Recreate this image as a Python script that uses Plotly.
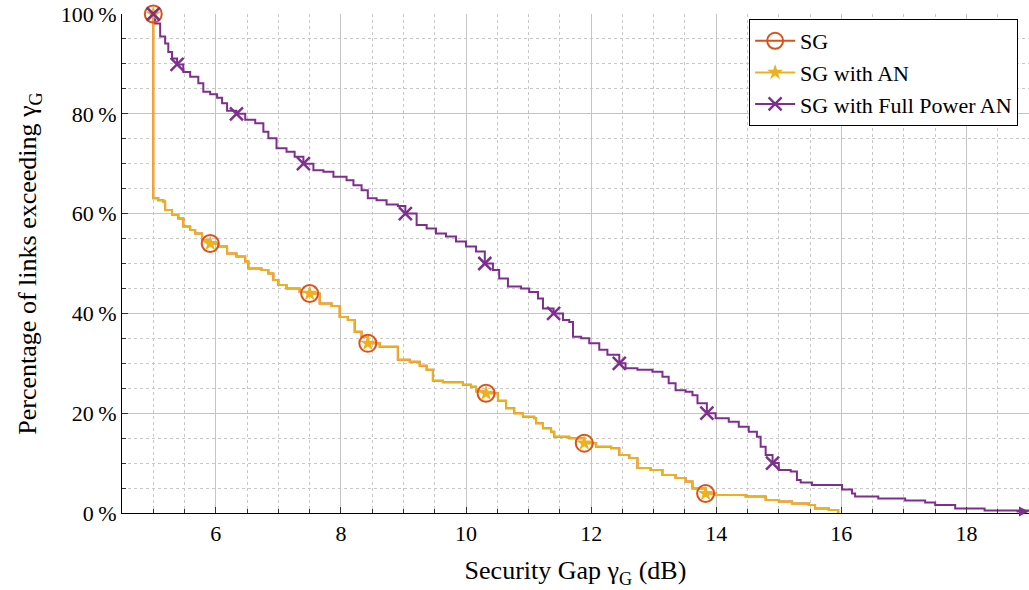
import plotly.graph_objects as go

# ---------------- data ----------------
# SG with Full Power AN (purple step curve)
fp_x = [5.0, 5.03, 5.11, 5.19, 5.24, 5.30, 5.38, 5.48, 5.59, 5.72, 5.80, 5.91, 6.02, 6.10, 6.18,
        6.33, 6.47, 6.63, 6.76, 6.84, 6.97, 7.13, 7.26, 7.40, 7.56, 7.72, 7.88, 8.09, 8.20, 8.33,
        8.43, 8.57, 8.73, 8.91, 9.03, 9.21, 9.37, 9.52, 9.68, 9.84, 10.0, 10.16, 10.30, 10.43, 10.53,
        10.67, 10.88, 11.01, 11.15, 11.23, 11.40, 11.55, 11.65, 11.71, 11.84, 11.97, 12.13, 12.26,
        12.45, 12.55, 12.74, 12.98, 13.14, 13.24, 13.35, 13.51, 13.62, 13.70, 13.85, 13.99, 14.20,
        14.36, 14.52, 14.65, 14.71, 14.79, 14.90, 15.0, 15.19, 15.29, 15.35, 15.53, 16.01, 16.17,
        16.22, 16.59, 17.02, 17.34, 17.50, 17.82, 18.29, 19.0]
fp_y = [100, 98.1, 95.5, 94.1, 92.4, 91.1, 89.9, 88.4, 87.4, 86.1, 84.4, 83.9, 83.2, 82.1, 80.6,
        80.0, 78.8, 78.1, 76.4, 75.1, 73.1, 72.4, 71.4, 70.0, 68.7, 68.4, 67.4, 66.7, 65.7, 64.7,
        63.1, 62.7, 61.8, 61.5, 60.0, 57.7, 57.0, 56.0, 55.4, 54.4, 53.4, 52.4, 50.0, 48.7, 47.0,
        45.4, 45.0, 44.3, 43.0, 41.0, 40.0, 38.7, 38.3, 35.3, 35.0, 34.0, 32.7, 31.7,
        30.0, 29.0, 28.7, 28.3, 27.3, 26.0, 24.6, 24.3, 23.6, 22.0, 20.0, 19.0, 18.3,
        17.3, 16.3, 15.3, 13.3, 11.6, 10.0, 8.6, 8.3, 6.6, 6.1, 5.6, 4.7, 3.9,
        3.3, 2.9, 2.5, 2.1, 1.6, 0.9, 0.5, 0.3]
fp_mark_x = [5.0, 5.38, 6.33, 7.40, 9.03, 10.30, 11.40, 12.45, 13.85, 14.90]
fp_mark_y = [100, 89.9, 80.0, 70.0, 60.0, 50.0, 40.0, 30.0, 20.0, 10.0]

# SG and SG with AN (coinciding step curves)
an_x = [5.0, 5.0, 5.08, 5.16, 5.19, 5.30, 5.40, 5.48, 5.59, 5.67, 5.78, 5.91, 6.04, 6.18, 6.33,
        6.47, 6.52, 6.73, 6.84, 6.92, 7.00, 7.13, 7.34, 7.50, 7.66, 7.85, 7.98, 8.11, 8.22, 8.33,
        8.43, 8.62, 8.91, 9.10, 9.26, 9.37, 9.47, 9.63, 9.95, 10.08, 10.16, 10.32, 10.51, 10.64,
        10.77, 10.91, 11.09, 11.12, 11.23, 11.36, 11.41, 11.65, 11.89, 12.08, 12.32, 12.45, 12.61,
        12.74, 12.95, 13.14, 13.35, 13.51, 13.62, 13.83, 13.99, 14.47, 14.79, 15.0, 15.21, 15.48,
        15.58, 15.80, 15.95]
an_y = [100, 63.1, 62.7, 62.4, 60.7, 59.7, 59.0, 57.4, 56.7, 56.0, 54.7, 54.0, 53.4, 52.0, 51.4,
        50.4, 49.0, 48.7, 48.0, 46.7, 45.7, 45.0, 44.3, 44.0, 42.0, 41.5, 39.3, 38.7, 36.3, 35.3,
        34.0, 33.3, 30.7, 30.3, 29.5, 28.7, 26.5, 26.2, 25.7, 25.3, 24.4, 24.0, 22.5, 21.0,
        20.0, 19.3, 19.0, 18.0, 17.0, 16.3, 15.3, 15.0, 14.0, 13.3, 13.0, 11.6, 11.0,
        9.0, 8.6, 7.6, 7.0, 6.3, 4.9, 3.9, 3.6, 3.3, 2.6, 2.3, 1.9, 1.6,
        0.9, 0.6, 0.0]
sg_x = list(an_x)
sg_y = list(an_y)
an_mark_x = [5.0, 5.91, 7.50, 8.43, 10.32, 11.89, 13.83]
an_mark_y = [100, 54.0, 44.0, 34.0, 24.0, 14.0, 3.9]

names = ["SG", "SG with AN", "SG with Full Power AN"]
x_ticks = [6, 8, 10, 12, 14, 16, 18]
y_ticks = [0, 20, 40, 60, 80, 100]

C_SG = "#D95319"
C_AN = "#EDB120"
C_FP = "#7E2F8E"
FONT = "Liberation Serif"
FS = 22

fig = go.Figure()

# lines
fig.add_trace(go.Scatter(x=sg_x, y=sg_y, mode="lines", line=dict(color=C_SG, width=2, shape="hv"),
                         showlegend=False, hoverinfo="skip"))
fig.add_trace(go.Scatter(x=an_x, y=an_y, mode="lines", line=dict(color=C_AN, width=2, shape="hv"),
                         showlegend=False, hoverinfo="skip"))
fig.add_trace(go.Scatter(x=fp_x, y=fp_y, mode="lines", line=dict(color=C_FP, width=2, shape="hv"),
                         showlegend=False, hoverinfo="skip"))

# markers
sg_marker = dict(symbol="circle-open", size=17, color=C_SG, line=dict(width=2, color=C_SG))
an_marker = dict(symbol="star", size=12, color=C_AN, line=dict(width=0))
fp_marker = dict(symbol="x-thin-open", size=13, color=C_FP, line=dict(width=2.5, color=C_FP))

fig.add_trace(go.Scatter(x=an_mark_x, y=an_mark_y, mode="markers", marker=sg_marker,
                         showlegend=False, cliponaxis=False, hoverinfo="skip"))
fig.add_trace(go.Scatter(x=an_mark_x, y=an_mark_y, mode="markers", marker=an_marker,
                         showlegend=False, cliponaxis=False, hoverinfo="skip"))
fig.add_trace(go.Scatter(x=fp_mark_x, y=fp_mark_y, mode="markers", marker=fp_marker,
                         showlegend=False, cliponaxis=False, hoverinfo="skip"))

# legend entries
for nm, col, mk in zip(names, [C_SG, C_AN, C_FP], [sg_marker, an_marker, fp_marker]):
    fig.add_trace(go.Scatter(x=[None], y=[None], mode="lines+markers", name=nm,
                             line=dict(color=col, width=2), marker=mk))

fig.add_annotation(x=19.0, y=0.3, ax=-14, ay=0, xref="x", yref="y", text="", showarrow=True,
                   arrowhead=2, arrowsize=1, arrowwidth=2, arrowcolor=C_FP)

fig.update_layout(
    width=1029, height=590,
    margin=dict(l=122, r=0, t=14, b=77),
    paper_bgcolor="white", plot_bgcolor="white",
    font=dict(family=FONT, size=FS, color="black"),
    showlegend=True,
    legend=dict(x=0.988, y=0.99, xanchor="right", yanchor="top",
                bgcolor="white", bordercolor="black", borderwidth=1,
                font=dict(family=FONT, size=FS), tracegroupgap=0,
                itemwidth=40),
    xaxis=dict(range=[4.5, 19], tickmode="array", tickvals=x_ticks,
               ticktext=[str(v) for v in x_ticks],
               showgrid=True, gridcolor="#c4c4c4", gridwidth=1,
               ticks="inside", ticklen=6, tickcolor="#333", tickwidth=1,
               showline=True, linecolor="black", linewidth=1.2, zeroline=False,
               minor=dict(dtick=0.5, tick0=0, showgrid=True, griddash="dot", gridcolor="#c8c8c8",
                          ticks="inside", ticklen=4, tickcolor="#333"),
               title=dict(text="Security Gap γ<sub>G</sub> (dB)", standoff=16),
               tickfont=dict(size=FS)),
    yaxis=dict(range=[0, 100], tickmode="array", tickvals=y_ticks,
               ticktext=[f"{v}\u2009%" for v in y_ticks],
               showgrid=True, gridcolor="#c4c4c4", gridwidth=1,
               ticks="inside", ticklen=6, tickcolor="#333", tickwidth=1,
               showline=True, linecolor="black", linewidth=1.2, zeroline=False,
               minor=dict(dtick=5, tick0=0, showgrid=True, griddash="dot", gridcolor="#c8c8c8",
                          ticks="inside", ticklen=4, tickcolor="#333"),
               title=dict(text="Percentage of links exceeding γ<sub>G</sub>", standoff=16),
               tickfont=dict(size=FS)),
)

fig.write_html("out.html")
